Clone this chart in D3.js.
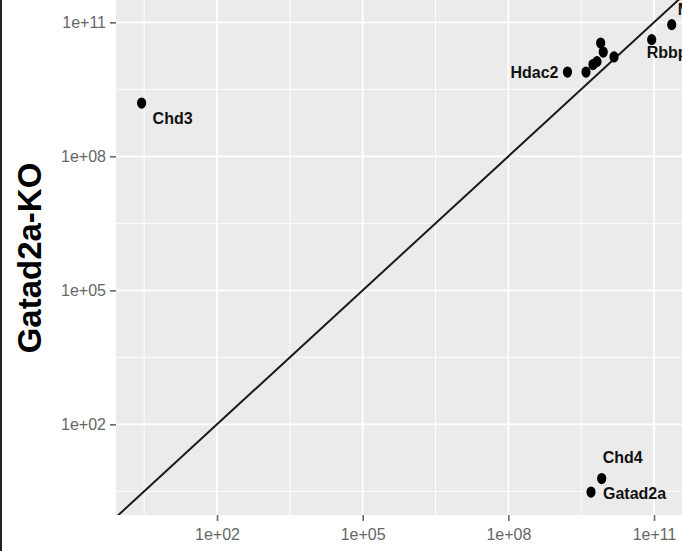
<!DOCTYPE html>
<html>
<head>
<meta charset="utf-8">
<script src="https://cdn.jsdelivr.net/npm/d3@7"></script>
<style>
  body { margin: 0; background: #fff; }
  svg { display: block; font-family: "Liberation Sans", Arial, sans-serif; }
</style>
</head>
<body>
<div id="chart"></div>
<script>
// data (x = WT abundance, y = Gatad2a-KO abundance)
const genes = ['Chd3', 'Hdac2', 'g3', 'g4', 'g5', 'g6', 'g7', 'g8', 'Rbbp4', 'Mta2', 'Chd4', 'Gatad2a'];
const wtValues = [2.8, 1.65e9, 3.97e9, 5.53e9, 6.68e9, 7.96e9, 9.0e9, 1.5e10, 8.95e10, 2.31e11, 8.36e9, 5.04e9];
const koValues = [1.56e9, 7.7e9, 7.7e9, 1.135e10, 1.32e10, 3.44e10, 2.16e10, 1.68e10, 4.1e10, 8.9e10, 6.1, 3.05];
const showLabel = [true, true, false, false, false, false, false, false, true, true, true, true];
const tickValues = [1e2, 1e5, 1e8, 1e11];
const minorValues = [10 ** 0.5, 10 ** 3.5, 10 ** 6.5, 10 ** 9.5];
const yTitle = 'Gatad2a-KO';

// label placement relative to its point (like ggrepel did it)
const labelNudge = {
  Chd3: [11, 15, 'start'],
  Hdac2: [-9, 0, 'end'],
  Rbbp4: [-5, 13, 'start'],
  Mta2: [6, -15, 'start'],
  Chd4: [1, -21, 'start'],
  Gatad2a: [12, 1.5, 'start'],
};

const width = 682, height = 551;
const panel = { left: 116, right: 682, top: 0, bottom: 515 };

const svg = d3.select('#chart')
  .append('svg')
  .attr('width', width)
  .attr('height', height);

const x = d3.scaleLog()
  .domain([10 ** -0.08, 10 ** 11.576])
  .range([panel.left, panel.right]);

const y = d3.scaleLog()
  .domain([10 ** -0.03, 10 ** 11.5])
  .range([panel.bottom, panel.top]);

const fmt = d => '1e+' + String(Math.round(Math.log10(d))).padStart(2, '0');

// panel background
svg.append('rect')
  .attr('x', panel.left)
  .attr('y', panel.top)
  .attr('width', panel.right - panel.left)
  .attr('height', panel.bottom - panel.top)
  .attr('fill', '#EBEBEB');

svg.append('clipPath')
  .attr('id', 'clip')
  .append('rect')
  .attr('x', panel.left)
  .attr('y', panel.top)
  .attr('width', panel.right - panel.left)
  .attr('height', panel.bottom - panel.top);

const grid = svg.append('g').attr('clip-path', 'url(#clip)');

// minor gridlines
grid.selectAll('.vminor')
  .data(minorValues)
  .join('line')
  .attr('x1', d => x(d)).attr('x2', d => x(d))
  .attr('y1', panel.top).attr('y2', panel.bottom)
  .attr('stroke', '#fff').attr('stroke-width', 0.9);

grid.selectAll('.hminor')
  .data(minorValues)
  .join('line')
  .attr('y1', d => y(d)).attr('y2', d => y(d))
  .attr('x1', panel.left).attr('x2', panel.right)
  .attr('stroke', '#fff').attr('stroke-width', 0.9);

// major gridlines
grid.selectAll('.vmajor')
  .data(tickValues)
  .join('line')
  .attr('x1', d => x(d)).attr('x2', d => x(d))
  .attr('y1', panel.top).attr('y2', panel.bottom)
  .attr('stroke', '#fff').attr('stroke-width', 1.8);

grid.selectAll('.hmajor')
  .data(tickValues)
  .join('line')
  .attr('y1', d => y(d)).attr('y2', d => y(d))
  .attr('x1', panel.left).attr('x2', panel.right)
  .attr('stroke', '#fff').attr('stroke-width', 1.8);

// y = x line
grid.append('line')
  .attr('x1', x(1e-2)).attr('y1', y(1e-2))
  .attr('x2', x(1e13)).attr('y2', y(1e13))
  .attr('stroke', '#1a1a1a')
  .attr('stroke-width', 2);

// points
grid.selectAll('.pt')
  .data(genes)
  .join('ellipse')
  .attr('cx', (d, i) => x(wtValues[i]))
  .attr('cy', (d, i) => y(koValues[i]))
  .attr('rx', 4.6)
  .attr('ry', 5.6)
  .attr('fill', '#000');

// labels
svg.selectAll('.lab')
  .data(genes.filter((d, i) => showLabel[i]))
  .join('text')
  .attr('x', d => x(wtValues[genes.indexOf(d)]) + labelNudge[d][0])
  .attr('y', d => y(koValues[genes.indexOf(d)]) + labelNudge[d][1] + 5.8)
  .attr('text-anchor', d => labelNudge[d][2])
  .style('font-size', '16px')
  .style('font-weight', 'bold')
  .attr('fill', '#111')
  .text(d => d);

// x axis
const xAxis = svg.append('g')
  .attr('transform', `translate(0, ${panel.bottom})`)
  .call(d3.axisBottom(x).tickValues(tickValues).tickFormat(fmt).tickSize(6).tickPadding(8));
xAxis.select('.domain').remove();
xAxis.selectAll('line').attr('stroke', '#666').attr('stroke-width', 1.6);
xAxis.selectAll('text').attr('fill', '#666').style('font-size', '16px');

// y axis
const yAxis = svg.append('g')
  .attr('transform', `translate(${panel.left}, 0)`)
  .call(d3.axisLeft(y).tickValues(tickValues).tickFormat(fmt).tickSize(6).tickPadding(4));
yAxis.select('.domain').remove();
yAxis.selectAll('line').attr('stroke', '#666').attr('stroke-width', 1.6);
yAxis.selectAll('text').attr('fill', '#666').style('font-size', '16px');

// y axis title
svg.append('text')
  .attr('transform', 'translate(41, 258) rotate(-90)')
  .attr('text-anchor', 'middle')
  .style('font-size', '33px')
  .style('font-weight', 'bold')
  .attr('fill', '#000')
  .text(yTitle);

// frame line at far left
svg.append('rect')
  .attr('x', 0).attr('y', 0)
  .attr('width', 2).attr('height', height)
  .attr('fill', '#222');
</script>
</body>
</html>
